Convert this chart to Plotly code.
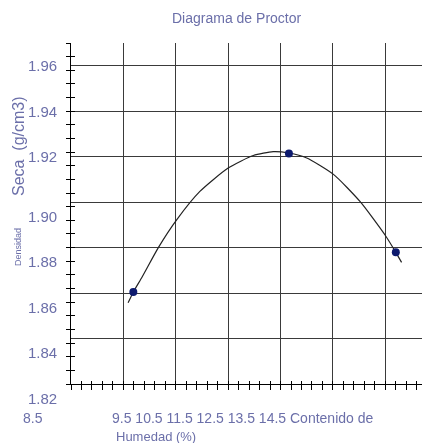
import plotly.graph_objects as go

# ---------------- data ----------------
moisture = [9.69, 12.66, 14.70]          # Contenido de Humedad (%)
density = [1.8605, 1.9214, 1.8779]       # Densidad Seca (g/cm3)

# fitted compaction curve
curve_x = [9.59, 9.69, 9.86, 10.17, 10.52, 10.96, 11.50, 11.98, 12.36, 12.66,
           13.00, 13.51, 14.02, 14.51, 14.70, 14.81]
curve_y = [1.8557, 1.8605, 1.8672, 1.8801, 1.8923, 1.9047, 1.9150, 1.9205, 1.9222, 1.9216,
           1.9194, 1.9122, 1.9002, 1.8850, 1.8779, 1.8735]

y_tick_labels = ["1.96", "1.94", "1.92", "1.90", "1.88", "1.86", "1.84", "1.82"]
x_tick_labels = ["8.5", "9.5", "10.5", "11.5", "12.5", "13.5", "14.5"]
title_text = "Diagrama de Proctor"
x_title = ["Contenido de", "Humedad (%)"]
y_title = ["Densidad", "Seca\u00a0\u00a0(g/cm3)"]

# ---------------- styling ----------------
W, H = 422, 443
PL, PR, PT, PB = 71, 422, 43, 384        # plot box in pixels
XR = [8.5, 15.2]
YR = [1.82, 1.97]
FONT = "Liberation Sans, Arial, sans-serif"
TXT = "#6b6fa9"
GRID = "#3a3a3a"

x_grid = [float(v) for v in x_tick_labels[1:]]
y_grid = [float(v) for v in y_tick_labels[:-1]]
x_minor = [round(8.5 + 0.2 * k, 2) for k in range(34)]
y_minor = [round(1.82 + 0.006 * k, 3) for k in range(26)]

XDOM = [PL / W, PR / W]
YDOM = [1 - PB / H, 1 - PT / H]


def px(x):
    return x / W


def py(y):
    return 1 - y / H


fig = go.Figure()

# compaction curve
fig.add_trace(go.Scatter(x=curve_x, y=curve_y, mode="lines",
                         line=dict(color="#222222", width=1.2, shape="spline", smoothing=0.6),
                         hoverinfo="skip", showlegend=False))
# measured points
fig.add_trace(go.Scatter(x=moisture, y=density, mode="markers",
                         marker=dict(color="#0d1a6e", size=8, symbol="circle"),
                         hoverinfo="skip", showlegend=False))
# invisible traces to carry the tick-only overlay axes
for xa, ya in (("x2", "y2"), ("x3", "y3")):
    fig.add_trace(go.Scatter(x=moisture, y=density, mode="markers", opacity=0,
                             xaxis=xa, yaxis=ya, hoverinfo="skip", showlegend=False))

common_x = dict(range=XR, domain=XDOM, showticklabels=False, zeroline=False,
                fixedrange=True, automargin=False)
common_y = dict(range=YR, domain=YDOM, showticklabels=False, zeroline=False,
                fixedrange=True, automargin=False)

fig.update_layout(
    template="none",
    width=W, height=H,
    margin=dict(l=0, r=0, t=0, b=0, pad=0),
    paper_bgcolor="white", plot_bgcolor="white",
    font=dict(family=FONT, color=TXT, size=14),
    showlegend=False,
    hovermode=False,
    xaxis=dict(**common_x, tickmode="array", tickvals=x_grid, ticks="",
               showgrid=True, gridcolor=GRID, gridwidth=1,
               showline=True, linecolor="black", linewidth=1),
    yaxis=dict(**common_y, tickmode="array", tickvals=y_grid, ticks="",
               showgrid=True, gridcolor=GRID, gridwidth=1,
               showline=True, linecolor="black", linewidth=1),
    xaxis2=dict(**common_x, overlaying="x", anchor="y2", tickmode="array", tickvals=x_minor,
                ticks="outside", ticklen=5, tickcolor="black", tickwidth=1,
                showgrid=False, showline=False),
    yaxis2=dict(**common_y, overlaying="y", anchor="x2", tickmode="array", tickvals=y_minor,
                ticks="outside", ticklen=4, tickcolor="black", tickwidth=1,
                showgrid=False, showline=False),
    xaxis3=dict(**common_x, overlaying="x", anchor="y3", tickmode="array", tickvals=x_minor,
                ticks="inside", ticklen=3, tickcolor="black", tickwidth=1,
                showgrid=False, showline=False),
    yaxis3=dict(**common_y, overlaying="y", anchor="x3", tickmode="array", tickvals=y_minor,
                ticks="inside", ticklen=4, tickcolor="black", tickwidth=1,
                showgrid=False, showline=False),
)

ann = []
# title
ann.append(dict(text=title_text, xref="paper", yref="paper", x=px(237), y=py(18),
                xanchor="center", yanchor="middle", showarrow=False,
                font=dict(size=14, color=TXT, family=FONT)))
# y tick labels (lower ones sit a bit below their grid lines, as in the original)
for lab in y_tick_labels:
    v = float(lab)
    ann.append(dict(text=lab, xref="paper", yref="y", x=px(PL), y=v, xshift=-12,
                    yshift=0 if v > 1.91 else -14,
                    xanchor="right", yanchor="middle", showarrow=False,
                    font=dict(size=15, color=TXT, family=FONT)))
# x tick labels + wrapped axis title
ann.append(dict(text=x_tick_labels[0], xref="paper", yref="paper", x=px(33), y=py(418),
                xanchor="center", yanchor="middle", showarrow=False,
                font=dict(size=14, color=TXT, family=FONT)))
ann.append(dict(text=" ".join(x_tick_labels[1:]) + " " + x_title[0],
                xref="paper", yref="paper", x=px(110), y=py(418),
                xanchor="left", yanchor="middle", showarrow=False,
                font=dict(size=14, color=TXT, family=FONT)))
ann.append(dict(text=x_title[1], xref="paper", yref="paper", x=px(114), y=py(436),
                xanchor="left", yanchor="middle", showarrow=False,
                font=dict(size=13, color=TXT, family=FONT)))
# y axis title
ann.append(dict(text=y_title[0], xref="paper", yref="paper", x=px(18), y=py(247),
                textangle=-90, xanchor="center", yanchor="middle", showarrow=False,
                font=dict(size=9, color=TXT, family=FONT)))
ann.append(dict(text=y_title[1], xref="paper", yref="paper", x=px(18), y=py(146),
                textangle=-90, xanchor="center", yanchor="middle", showarrow=False,
                font=dict(size=16, color=TXT, family=FONT)))

fig.update_layout(annotations=ann)
fig.write_html("out.html",
               config={"displayModeBar": False, "staticPlot": True},
               post_script="document.body.style.margin='0';document.body.style.overflow='hidden';")
